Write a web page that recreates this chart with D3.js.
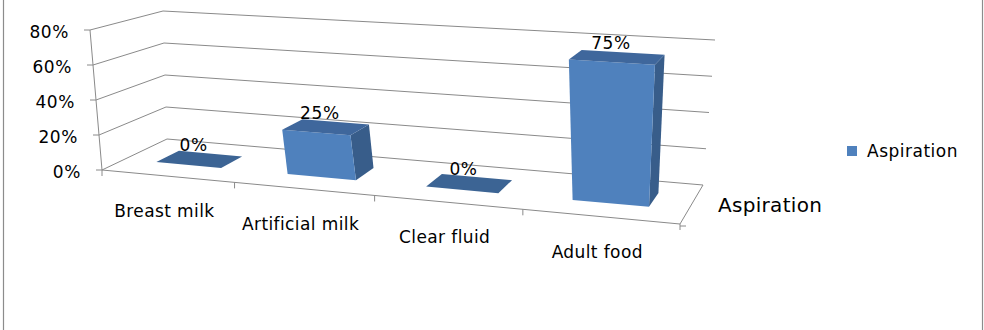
<!DOCTYPE html>
<html>
<head>
<meta charset="utf-8">
<script src="https://cdn.jsdelivr.net/npm/d3@7"></script>
<style>
  body { margin: 0; background: #fff; }
  text { font-family: "DejaVu Sans", sans-serif; fill: #000; }
</style>
</head>
<body>
<div id="chart"></div>
<script>
// data
var categories = ["Breast milk", "Artificial milk", "Clear fluid", "Adult food"];
var values = [0, 0.25, 0, 0.75];
var seriesName = "Aspiration";
var yTicks = [0, 0.2, 0.4, 0.6, 0.8];

var width = 984, height = 330;

// corners of the 3D plot box on screen (floor and 80% plane)
var floorCorners = [[102, 170], [680, 224], [703, 185], [167, 139]];
var topCorners = [[90, 30], [693, 68], [715, 40], [163, 11]];

// unit square -> quad (perspective)
function quad(p) {
  var x0 = p[0][0], y0 = p[0][1], x1 = p[1][0], y1 = p[1][1],
      x2 = p[2][0], y2 = p[2][1], x3 = p[3][0], y3 = p[3][1];
  var dx1 = x1 - x2, dx2 = x3 - x2, dx3 = x0 - x1 + x2 - x3;
  var dy1 = y1 - y2, dy2 = y3 - y2, dy3 = y0 - y1 + y2 - y3;
  var den = dx1 * dy2 - dx2 * dy1;
  var g = (dx3 * dy2 - dx2 * dy3) / den;
  var h = (dx1 * dy3 - dx3 * dy1) / den;
  var a = x1 - x0 + g * x1, b = x3 - x0 + h * x3, c = x0;
  var d = y1 - y0 + g * y1, e = y3 - y0 + h * y3, f = y0;
  return function(u, v) {
    var w = g * u + h * v + 1;
    return [(a * u + b * v + c) / w, (d * u + e * v + f) / w];
  };
}
var floorMap = quad(floorCorners), topMap = quad(topCorners);

var x = d3.scaleBand().domain(categories).range([0, 1])
  .paddingInner(0.5).paddingOuter(0.25);
var slot = d3.scaleBand().domain(categories).range([0, 1]);
var y = d3.scaleLinear().domain([0, 0.8]).range([0, 1]);
var depth = [0.33, 0.69];

function project(u, v, w) {
  var a = floorMap(u, v), b = topMap(u, v), k = y(w);
  return [a[0] + (b[0] - a[0]) * k, a[1] + (b[1] - a[1]) * k];
}

var svg = d3.select("#chart").append("svg")
  .attr("width", width).attr("height", height);

svg.append("rect").attr("x", 0).attr("y", 0)
  .attr("width", width).attr("height", height).attr("fill", "#fff");

// outer chart border
svg.append("rect")
  .attr("x", 3.5).attr("y", -5).attr("width", 979).attr("height", height + 10)
  .attr("fill", "none").attr("stroke", "#8c8c8c").attr("stroke-width", 1.2);

var line = d3.line();
var gridColor = "#8a8a8a";

// gridlines on back wall and left wall
yTicks.forEach(function(t) {
  svg.append("path")
    .attr("d", line([project(0, 0, t), project(0, 1, t), project(1, 1, t)]))
    .attr("fill", "none").attr("stroke", gridColor).attr("stroke-width", 1);
});

// value axis
svg.append("path")
  .attr("d", line([project(0, 0, 0), project(0, 0, 0.8)]))
  .attr("stroke", gridColor).attr("fill", "none");
yTicks.forEach(function(t) {
  var p = project(0, 0, t);
  svg.append("line")
    .attr("x1", p[0] - 6).attr("x2", p[0]).attr("y1", p[1]).attr("y2", p[1])
    .attr("stroke", gridColor);
  svg.append("text")
    .attr("x", p[0] - 21).attr("y", p[1] + 3)
    .attr("text-anchor", "end").attr("dominant-baseline", "middle")
    .style("font-size", "17px").style("letter-spacing", "0.6px")
    .text(d3.format(".0%")(t));
});

// category axis (front floor edge) and right floor edge
svg.append("path")
  .attr("d", line([project(0, 0, 0), project(1, 0, 0), project(1, 1, 0)]))
  .attr("stroke", gridColor).attr("fill", "none");
[0].concat(categories.map(function(c) { return slot(c) + slot.bandwidth(); }))
  .forEach(function(u) {
    var p = project(u, 0, 0);
    svg.append("line")
      .attr("x1", p[0]).attr("x2", p[0]).attr("y1", p[1]).attr("y2", p[1] + 6)
      .attr("stroke", gridColor);
  });
var fr = project(1, 0, 0);
svg.append("line")
  .attr("x1", fr[0]).attr("x2", fr[0] + 6).attr("y1", fr[1] + 2).attr("y2", fr[1] + 2)
  .attr("stroke", gridColor);

categories.forEach(function(c) {
  var p = project(slot(c) + slot.bandwidth() / 2, 0, 0);
  svg.append("text")
    .attr("x", p[0] - 3).attr("y", p[1] + 36)
    .attr("text-anchor", "middle").attr("dominant-baseline", "middle")
    .style("font-size", "17px").style("letter-spacing", "0.4px")
    .text(c);
});

// bars
var frontColor = "#4F81BD", sideColor = "#385D8A", topColor = "#3F679C", flatColor = "#3C6494";
categories.forEach(function(c, i) {
  var v = values[i];
  var u0 = x(c), u1 = x(c) + x.bandwidth();
  var v0 = depth[0], v1 = depth[1];
  var g = svg.append("g");
  if (v > 0) {
    g.append("path")
      .attr("d", line([project(u1, v0, 0), project(u1, v1, 0), project(u1, v1, v), project(u1, v0, v)]) + "Z")
      .attr("fill", sideColor);
    g.append("path")
      .attr("d", line([project(u0, v0, 0), project(u1, v0, 0), project(u1, v0, v), project(u0, v0, v)]) + "Z")
      .attr("fill", frontColor);
  }
  g.append("path")
    .attr("d", line([project(u0, v0, v), project(u1, v0, v), project(u1, v1, v), project(u0, v1, v)]) + "Z")
    .attr("fill", v > 0 ? topColor : flatColor);
  var lp = project((u0 + u1) / 2, (v0 + v1) / 2, v);
  svg.append("text")
    .attr("x", lp[0] - 6).attr("y", lp[1] - 8)
    .attr("text-anchor", "middle")
    .style("font-size", "17px").style("letter-spacing", "0.6px")
    .text(d3.format(".0%")(v));
});

// depth axis title
var dp = project(1, 0.5, 0);
svg.append("text")
  .attr("x", dp[0] + 26).attr("y", dp[1] + 3)
  .attr("dominant-baseline", "middle")
  .style("font-size", "20px").style("letter-spacing", "0.3px")
  .text(seriesName);

// legend
var legend = svg.append("g").attr("transform", "translate(847,151)");
legend.append("rect").attr("x", 0).attr("y", -5).attr("width", 10).attr("height", 10)
  .attr("fill", frontColor);
legend.append("text").attr("x", 20).attr("y", 1)
  .attr("dominant-baseline", "middle")
  .style("font-size", "17px").style("letter-spacing", "0.5px")
  .text(seriesName);
</script>
</body>
</html>
